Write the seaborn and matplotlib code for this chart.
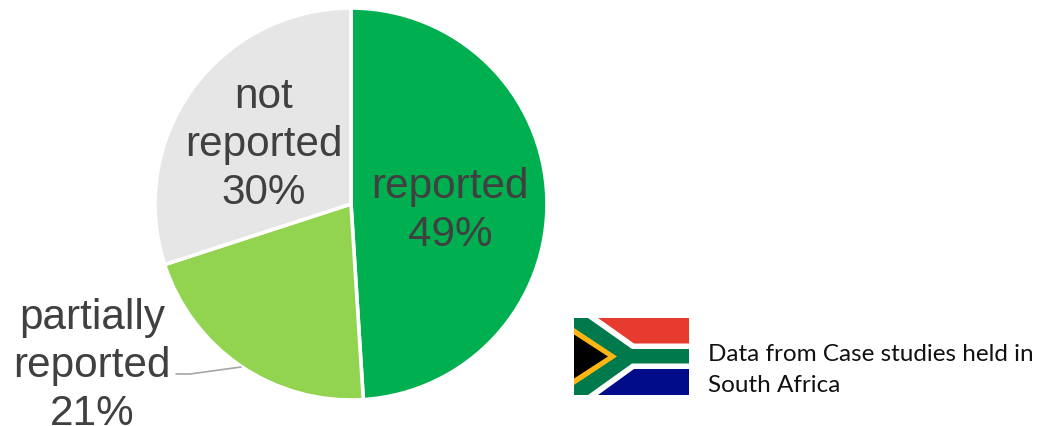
import matplotlib
matplotlib.use("Agg")
import matplotlib.pyplot as plt
from matplotlib.patches import Polygon, Rectangle
from matplotlib.transforms import Affine2D
import seaborn as sns

categories = ["reported", "partially reported", "not reported"]
shares = [49, 21, 30]
slice_colors = ["#00B050", "#92D350", "#E6E6E6"]
label_color = "#404040"
note_lines = "Data from Case studies held in\nSouth Africa"

W, H = 1041, 426
sns.set_theme(style="white")
plt.rcParams["font.family"] = ["Liberation Sans", "DejaVu Sans"]

fig = plt.figure(figsize=(W / 100, H / 100), dpi=100, facecolor="white")

# Pie axes: centre (351, 204), radius 195 in figure pixels
cx, cy, r = 351, 204, 196
ax = fig.add_axes([(cx - r) / W, 1 - (cy + r) / H, 2 * r / W, 2 * r / H])
ax.pie(shares, colors=slice_colors, startangle=90, counterclock=False, radius=1,
       wedgeprops=dict(edgecolor="white", linewidth=2.6))
ax.set_xlim(-1, 1)
ax.set_ylim(-1, 1)
ax.set_aspect("equal")
ax.axis("off")

# Overlay in pixel coordinates, y pointing down
px = Affine2D().scale(1, -1).translate(0, H)


def pixel_text(x, y, s, **kw):
    fig.text(x, y, s, transform=px, ha="center", va="center", **kw)


label_style = dict(color=label_color, fontsize=30.4, linespacing=1.25)
pixel_text(450, 211, f"reported\n{shares[0]}%", **label_style)
pixel_text(264, 145, f"not\nreported\n{shares[2]}%", **label_style)
pixel_text(92, 366, f"partially\nreported\n{shares[1]}%", **label_style)

# Leader line for the small outside label
fig.add_artist(plt.Line2D([176, 190, 241], [374, 374, 367], transform=px,
                          color="#A6A6A6", lw=1.2))

# Flag drawn on a unit grid of 115 x 77
fx, fy, fw, fh = 574, 318, 115, 77
flag = fig.add_axes([fx / W, 1 - (fy + fh) / H, fw / W, fh / H])
flag.set_xlim(0, 115)
flag.set_ylim(77, 0)
flag.axis("off")
flag.add_patch(Rectangle((0, 0), 115, 25.5, color="#E63B2E", lw=0))
flag.add_patch(Rectangle((0, 51), 115, 26, color="#000C8A", lw=0))
flag.add_patch(Polygon([(0, 0), (24, 0), (60, 25.5), (115, 25.5), (115, 51),
                        (60, 51), (24, 77), (0, 77)], color="white", lw=0))
flag.add_patch(Polygon([(0, 0), (14, 0), (58, 31), (115, 31), (115, 45.5),
                        (58, 45.5), (14, 77), (0, 77)], color="#007A4D", lw=0))
flag.add_patch(Polygon([(0, 10), (43, 38.5), (0, 67)], color="#FFB612", lw=0))
flag.add_patch(Polygon([(0, 16.5), (34, 38.5), (0, 60.5)], color="black", lw=0))

fig.text(708, 370, note_lines, transform=px, ha="left", va="center",
         fontsize=17.5, color="#111111", family=["Lato", "DejaVu Sans"], linespacing=1.6)

fig.savefig("out.png", dpi=100)
